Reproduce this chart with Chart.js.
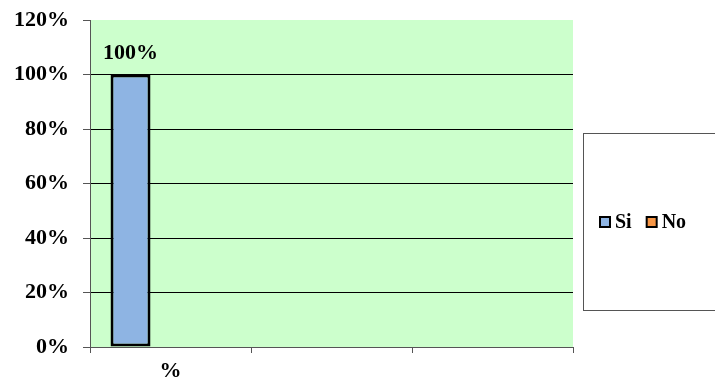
<!DOCTYPE html>
<html>
<head>
<meta charset="utf-8">
<script src="https://cdn.jsdelivr.net/npm/chart.js@4/dist/chart.umd.min.js"></script>
<style>
  html, body { margin: 0; padding: 0; background: #fff; }
  #wrap { width: 715px; height: 385px; position: relative; }
</style>
</head>
<body>
<div id="wrap"><canvas id="c" width="715" height="385"></canvas></div>
<script>
const categories = ['%', '', ''];
const seriesNames = ['Si', 'No'];
const siValues = [100, null, null];
const noValues = [0, null, null];
const spareValues = [null, null, null];
const yTickValues = [0, 20, 40, 60, 80, 100, 120];

const FONT = "'Liberation Serif', 'Times New Roman', serif";

const bgPlugin = {
  id: 'bg',
  beforeDraw(chart) {
    const a = chart.chartArea, ctx = chart.ctx;
    ctx.save();
    ctx.fillStyle = '#CCFFCC';
    ctx.fillRect(a.left, a.top, a.right - a.left, a.bottom - a.top);
    ctx.restore();
  }
};

const labelPlugin = {
  id: 'vlabels',
  afterDatasetsDraw(chart) {
    const ctx = chart.ctx;
    const meta = chart.getDatasetMeta(0);
    ctx.save();
    ctx.font = 'bold 22px ' + FONT;
    ctx.fillStyle = '#000';
    ctx.textAlign = 'center';
    ctx.textBaseline = 'alphabetic';
    meta.data.forEach((bar, i) => {
      const v = chart.data.datasets[0].data[i];
      if (v === null || v === undefined) return;
      ctx.fillText(v + '%', bar.x, bar.y - 16);
    });
    ctx.restore();
  }
};

const legendPlugin = {
  id: 'boxlegend',
  afterDraw(chart) {
    const ctx = chart.ctx;
    ctx.save();
    ctx.strokeStyle = '#555';
    ctx.lineWidth = 1;
    ctx.fillStyle = '#fff';
    ctx.fillRect(583.5, 133.5, 140, 177);
    ctx.strokeRect(583.5, 133.5, 140, 177);
    ctx.font = 'bold 20px ' + FONT;
    ctx.textBaseline = 'middle';
    ctx.textAlign = 'left';
    let x = 600;
    const y = 222;
    chart.data.datasets.forEach(ds => {
      if (!ds.label) return;
      ctx.fillStyle = ds.backgroundColor;
      ctx.fillRect(x, y - 5, 10, 10);
      ctx.strokeStyle = '#000';
      ctx.lineWidth = 2;
      ctx.strokeRect(x, y - 5, 10, 10);
      ctx.fillStyle = '#000';
      ctx.fillText(ds.label, x + 15, y + 1);
      x += 15 + ctx.measureText(ds.label).width + 15;
    });
    ctx.restore();
  }
};

new Chart(document.getElementById('c'), {
  type: 'bar',
  data: {
    labels: categories,
    datasets: [
      { label: seriesNames[0], data: siValues, backgroundColor: '#8EB4E3', borderColor: '#000', borderWidth: 3, borderSkipped: false },
      { label: seriesNames[1], data: noValues, backgroundColor: '#F79646', borderColor: '#000', borderWidth: 3, borderSkipped: false },
      { label: '', data: spareValues, backgroundColor: 'rgba(0,0,0,0)', borderWidth: 0 }
    ]
  },
  options: {
    responsive: false,
    animation: false,
    layout: { padding: { left: 0, right: 142, top: 20, bottom: 0 } },
    datasets: { bar: { categoryPercentage: 0.745, barPercentage: 1 } },
    plugins: {
      legend: { display: false },
      tooltip: { enabled: false }
    },
    scales: {
      x: {
        offset: true,
        grid: { offset: true, drawOnChartArea: false, drawTicks: true, tickLength: 6, color: '#555', lineWidth: 1 },
        border: { color: '#555', width: 1 },
        ticks: { color: '#000', font: { family: FONT, size: 22, weight: 'bold' }, padding: 5, maxRotation: 0 },
        afterFit(s) { s.height = 38; s.paddingLeft = 0; s.paddingRight = 0; }
      },
      y: {
        min: 0, max: 120,
        afterBuildTicks(s) { s.ticks = yTickValues.map(v => ({ value: v })); },
        grid: {
          color: c => (c.tick && c.tick.value === 120) ? 'rgba(0,0,0,0)' : '#000',
          tickColor: '#555',
          tickLength: 7,
          lineWidth: 1
        },
        border: { color: '#555', width: 1 },
        ticks: { color: '#000', font: { family: FONT, size: 22, weight: 'bold' }, padding: 14, callback: v => v + '%' },
        afterFit(s) { s.width = 90; s.paddingTop = 0; s.paddingBottom = 0; }
      }
    }
  },
  plugins: [bgPlugin, labelPlugin, legendPlugin]
});
</script>
</body>
</html>
